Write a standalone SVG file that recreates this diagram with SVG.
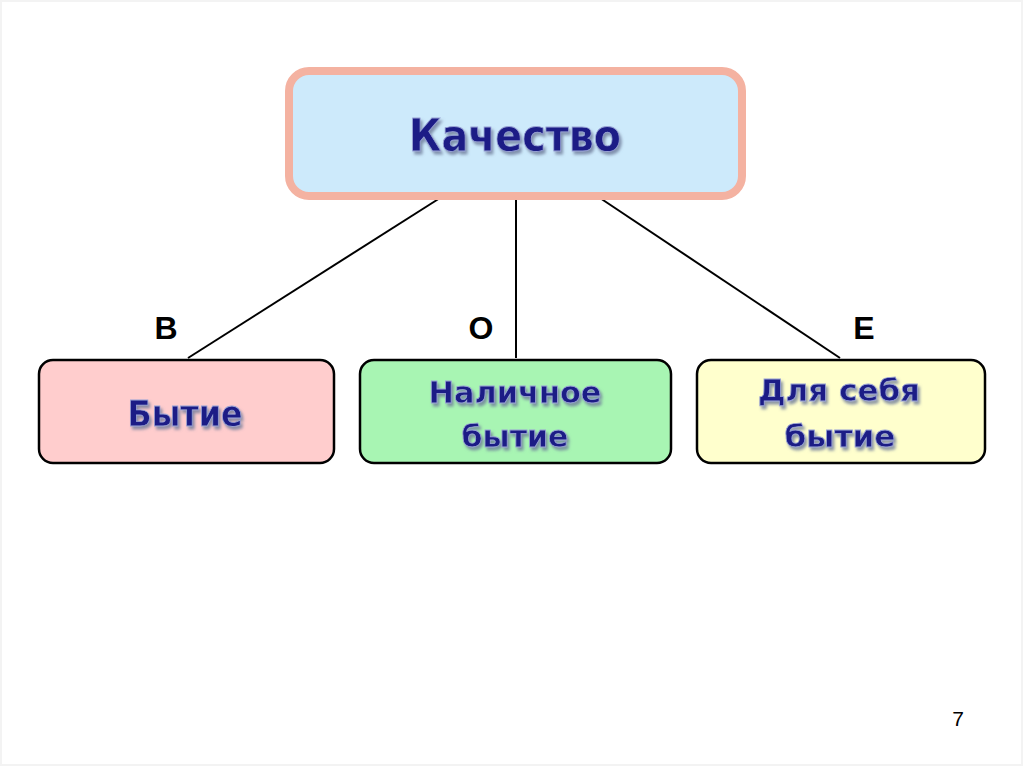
<svg xmlns="http://www.w3.org/2000/svg" width="1024" height="767" viewBox="0 0 1024 767">
<defs>
<filter id="sh" x="-10%" y="-30%" width="130%" height="170%">
<feGaussianBlur in="SourceAlpha" stdDeviation="1.5" result="b"/>
<feOffset in="b" dx="2" dy="3" result="o"/>
<feFlood flood-color="#6d7a99" flood-opacity="0.8"/>
<feComposite in2="o" operator="in" result="s"/>
<feMerge><feMergeNode in="s"/><feMergeNode in="SourceGraphic"/></feMerge>
</filter>
</defs>
<style>
.lbl{font-family:"DejaVu Sans",Verdana,sans-serif;font-weight:bold;fill:#1c1f86;stroke:#9aa3d6;stroke-width:0.8;text-anchor:middle;filter:url(#sh)}
.box{stroke:#000;stroke-width:2.5}
.let{font-family:"Liberation Sans",Arial,sans-serif;font-weight:bold;font-size:32px;fill:#000;text-anchor:middle}
.con{stroke:#000;stroke-width:2;fill:none}
</style>
<rect x="0" y="0" width="1024" height="767" fill="#fff"/>
<rect x="1" y="1" width="1021" height="764" fill="none" stroke="#f3f3f3" stroke-width="2"/>
<g id="connectors">
<line class="con" x1="440" y1="198" x2="188" y2="358"/>
<line class="con" x1="516" y1="200" x2="516" y2="358"/>
<line class="con" x1="600" y1="198" x2="840" y2="358"/>
</g>
<g id="quality">
<rect x="289" y="71" width="453" height="125" rx="20" fill="#cdeafb" stroke="#f4b2a1" stroke-width="8"/>
<text class="lbl" x="515" y="151" font-size="44" textLength="212" lengthAdjust="spacingAndGlyphs">Качество</text>
</g>
<g id="being">
<rect class="box" x="39" y="360" width="295" height="103" rx="14" fill="#ffcdcd"/>
<text class="lbl" x="185" y="426" font-size="35" textLength="115" lengthAdjust="spacingAndGlyphs">Бытие</text>
</g>
<g id="dasein">
<rect class="box" x="360" y="360" width="311" height="103" rx="14" fill="#a8f5b3"/>
<text class="lbl" x="515" y="403" font-size="30" textLength="173" lengthAdjust="spacingAndGlyphs">Наличное</text>
<text class="lbl" x="515" y="447" font-size="30" textLength="107" lengthAdjust="spacingAndGlyphs">бытие</text>
</g>
<g id="forself">
<rect class="box" x="697" y="360" width="288" height="103" rx="14" fill="#ffffcd"/>
<text class="lbl" x="839" y="401" font-size="30" textLength="162" lengthAdjust="spacingAndGlyphs">Для себя</text>
<text class="lbl" x="840" y="447" font-size="30" textLength="111" lengthAdjust="spacingAndGlyphs">бытие</text>
</g>
<g id="letters">
<text class="let" x="166" y="339">В</text>
<text class="let" x="481" y="339">О</text>
<text class="let" x="864" y="339">Е</text>
</g>
<text x="958" y="726" font-family="Liberation Sans,Arial,sans-serif" font-size="21" fill="#000" text-anchor="middle">7</text>
</svg>
